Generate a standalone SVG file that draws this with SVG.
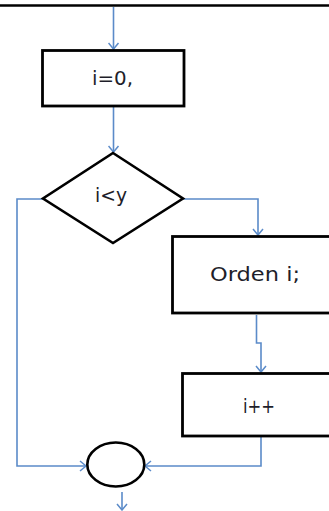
<svg xmlns="http://www.w3.org/2000/svg" width="329" height="511" viewBox="0 0 329 511">
<defs>
<marker id="arr" markerWidth="12" markerHeight="12" refX="10" refY="6" orient="auto" markerUnits="userSpaceOnUse">
<path d="M4,1 L10,6 L4,11" fill="none" stroke="#5b8bc9" stroke-width="1.5"/>
</marker>
</defs>
<style>
.box{fill:#fff;stroke:#000;stroke-width:2.8}
.c{fill:none;stroke:#5b8bc9;stroke-width:1.6}
.t{font-family:"DejaVu Sans",sans-serif;font-size:19px;fill:#1e1e2a;text-anchor:middle}
</style>
<rect x="0" y="0" width="329" height="511" fill="#fff"/>
<line x1="0" y1="5.5" x2="329" y2="5.5" stroke="#000" stroke-width="2.6"/>
<g id="connectors">
<path class="c" d="M113.5,7 V49" marker-end="url(#arr)"/>
<path class="c" d="M113.5,107 V152" marker-end="url(#arr)"/>
<path class="c" d="M183,199 H258 V235" marker-end="url(#arr)"/>
<path class="c" d="M256.5,315 V343 H261 V372" marker-end="url(#arr)"/>
<path class="c" d="M43,199 H17 V466 H86" marker-end="url(#arr)"/>
<path class="c" d="M261,437 V466 H145" marker-end="url(#arr)"/>
<path class="c" d="M122,492 V510" marker-end="url(#arr)"/>
</g>
<g id="init">
<rect class="box" x="42.5" y="50.5" width="141.5" height="55.5"/>
<text class="t" x="112.5" y="85" textLength="41" lengthAdjust="spacingAndGlyphs">i=0,</text>
</g>
<g id="cond">
<polygon points="113,153 183,198.5 113,243 43,198.5" fill="#fff" stroke="#000" stroke-width="2.6"/>
<text class="t" x="111" y="202" textLength="32" lengthAdjust="spacingAndGlyphs">i&lt;y</text>
</g>
<g id="orden">
<rect class="box" x="172.5" y="236.5" width="160" height="76.5"/>
<text class="t" x="255" y="281" textLength="90" lengthAdjust="spacingAndGlyphs">Orden i;</text>
</g>
<g id="inc">
<rect class="box" x="182.5" y="373.5" width="150" height="62.5"/>
<text class="t" x="259" y="413" textLength="32" lengthAdjust="spacingAndGlyphs">i++</text>
</g>
<g id="join">
<ellipse cx="115.8" cy="464.5" rx="28.5" ry="22" fill="#fff" stroke="#000" stroke-width="2.6"/>
</g>
</svg>
